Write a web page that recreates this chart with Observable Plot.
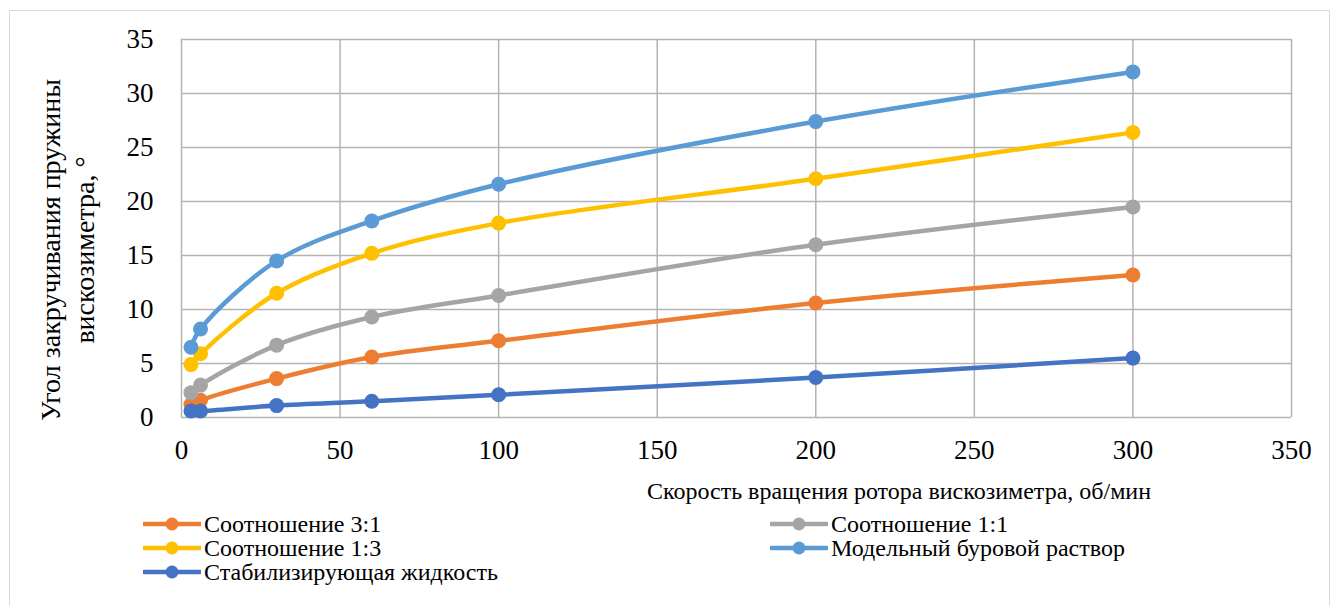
<!DOCTYPE html>
<html><head><meta charset="utf-8">
<script src="https://cdn.jsdelivr.net/npm/d3@7"></script>
<script src="https://cdn.jsdelivr.net/npm/@observablehq/plot@0.6"></script>
<style>
body{margin:0;background:#fff;font-family:"Liberation Serif","Tinos","DejaVu Serif",serif;color:#000;}
#wrap{position:relative;width:1340px;height:606px;overflow:hidden;background:#fff;}
#border{position:absolute;left:9px;top:10px;width:1321px;height:640px;border:1px solid #d9d9d9;box-sizing:border-box;}
#chart{position:absolute;left:0;top:0;}
#ytitle{position:absolute;left:68px;top:250px;width:460px;transform:translate(-50%,-50%) rotate(-90deg);text-align:center;font-size:28px;line-height:34px;white-space:nowrap;}
#xtitle{position:absolute;left:899px;top:478px;transform:translateX(-50%);font-size:24px;white-space:nowrap;}
#legend{position:absolute;left:0;top:510px;width:1340px;font-size:24px;line-height:24px;}
.item{position:absolute;display:flex;align-items:center;white-space:nowrap;}
.item svg{margin-right:3px;}
</style>
</head><body>
<div id="wrap">
  <div id="border"></div>
  <div id="chart"></div>
  <div id="ytitle"></div>
  <div id="xtitle"></div>
  <div id="legend"></div>
</div>
<script>
const speeds = [3, 6, 30, 60, 100, 200, 300];
const ratio31 = [1.2, 1.6, 3.6, 5.6, 7.1, 10.6, 13.2];
const ratio11 = [2.3, 3.0, 6.7, 9.3, 11.3, 16.0, 19.5];
const ratio13 = [4.9, 5.9, 11.5, 15.2, 18.0, 22.1, 26.4];
const modelMud = [6.5, 8.2, 14.5, 18.2, 21.6, 27.4, 32.0];
const stabFluid = [0.6, 0.6, 1.1, 1.5, 2.1, 3.7, 5.5];

const seriesNames = ["Соотношение 3:1", "Соотношение 1:1", "Соотношение 1:3", "Модельный буровой раствор", "Стабилизирующая жидкость"];
const seriesValues = [ratio31, ratio11, ratio13, modelMud, stabFluid];
const seriesColors = ["#ED7D31", "#A5A5A5", "#FFC000", "#5B9BD5", "#4472C4"];

const xTicks = [0, 50, 100, 150, 200, 250, 300, 350];
const yTicks = [0, 5, 10, 15, 20, 25, 30, 35];
const xTitle = "Скорость вращения ротора вискозиметра, об/мин";
const yTitleLines = ["Угол закручивания пружины", "вискозиметра, °"];

const rows = [];
seriesNames.forEach((name, i) => {
  speeds.forEach((s, j) => rows.push({series: name, x: s, y: seriesValues[i][j]}));
});

const seriesMarks = [];
seriesNames.forEach((name, i) => {
  const d = rows.filter(r => r.series === name);
  seriesMarks.push(Plot.line(d, {x: "x", y: "y", stroke: seriesColors[i], strokeWidth: 4.5, curve: "catmull-rom"}));
  seriesMarks.push(Plot.dot(d, {x: "x", y: "y", fill: seriesColors[i], r: 7.5, stroke: "none"}));
});

const chart = Plot.plot({
  width: 1340,
  height: 510,
  marginLeft: 181,
  marginRight: 49,
  marginTop: 39,
  marginBottom: 93,
  style: {fontFamily: "'Liberation Serif', Tinos, 'DejaVu Serif', serif", color: "#000", background: "transparent", overflow: "visible"},
  x: {domain: [0, 350]},
  y: {domain: [0, 35]},
  marks: [
    Plot.gridX(xTicks, {stroke: "#b5b2b2", strokeOpacity: 1, strokeWidth: 1.5}),
    Plot.gridY(yTicks, {stroke: "#b5b2b2", strokeOpacity: 1, strokeWidth: 1.5}),
    Plot.axisX(xTicks, {tickSize: 0, tickPadding: 22, fontSize: 27, label: null, fill: "#000"}),
    Plot.axisY(yTicks, {tickSize: 0, tickPadding: 28, fontSize: 27, label: null, fill: "#000"}),
    ...seriesMarks
  ]
});
document.getElementById("chart").appendChild(chart);

document.getElementById("xtitle").textContent = xTitle;
document.getElementById("ytitle").innerHTML = yTitleLines.map(t => `<div>${t}</div>`).join("");

const legend = document.getElementById("legend");
const positions = [[143, 2], [770, 2], [143, 26], [770, 26], [143, 50]];
seriesNames.forEach((name, i) => {
  const it = document.createElement("div");
  it.className = "item";
  it.style.left = positions[i][0] + "px";
  it.style.top = positions[i][1] + "px";
  it.innerHTML = `<svg width="58" height="24"><line x1="1" x2="57" y1="12" y2="12" stroke="${seriesColors[i]}" stroke-width="4.5" stroke-linecap="round"/><circle cx="29" cy="12" r="6.5" fill="${seriesColors[i]}"/></svg><span>${name}</span>`;
  legend.appendChild(it);
});
</script>
</body></html>
